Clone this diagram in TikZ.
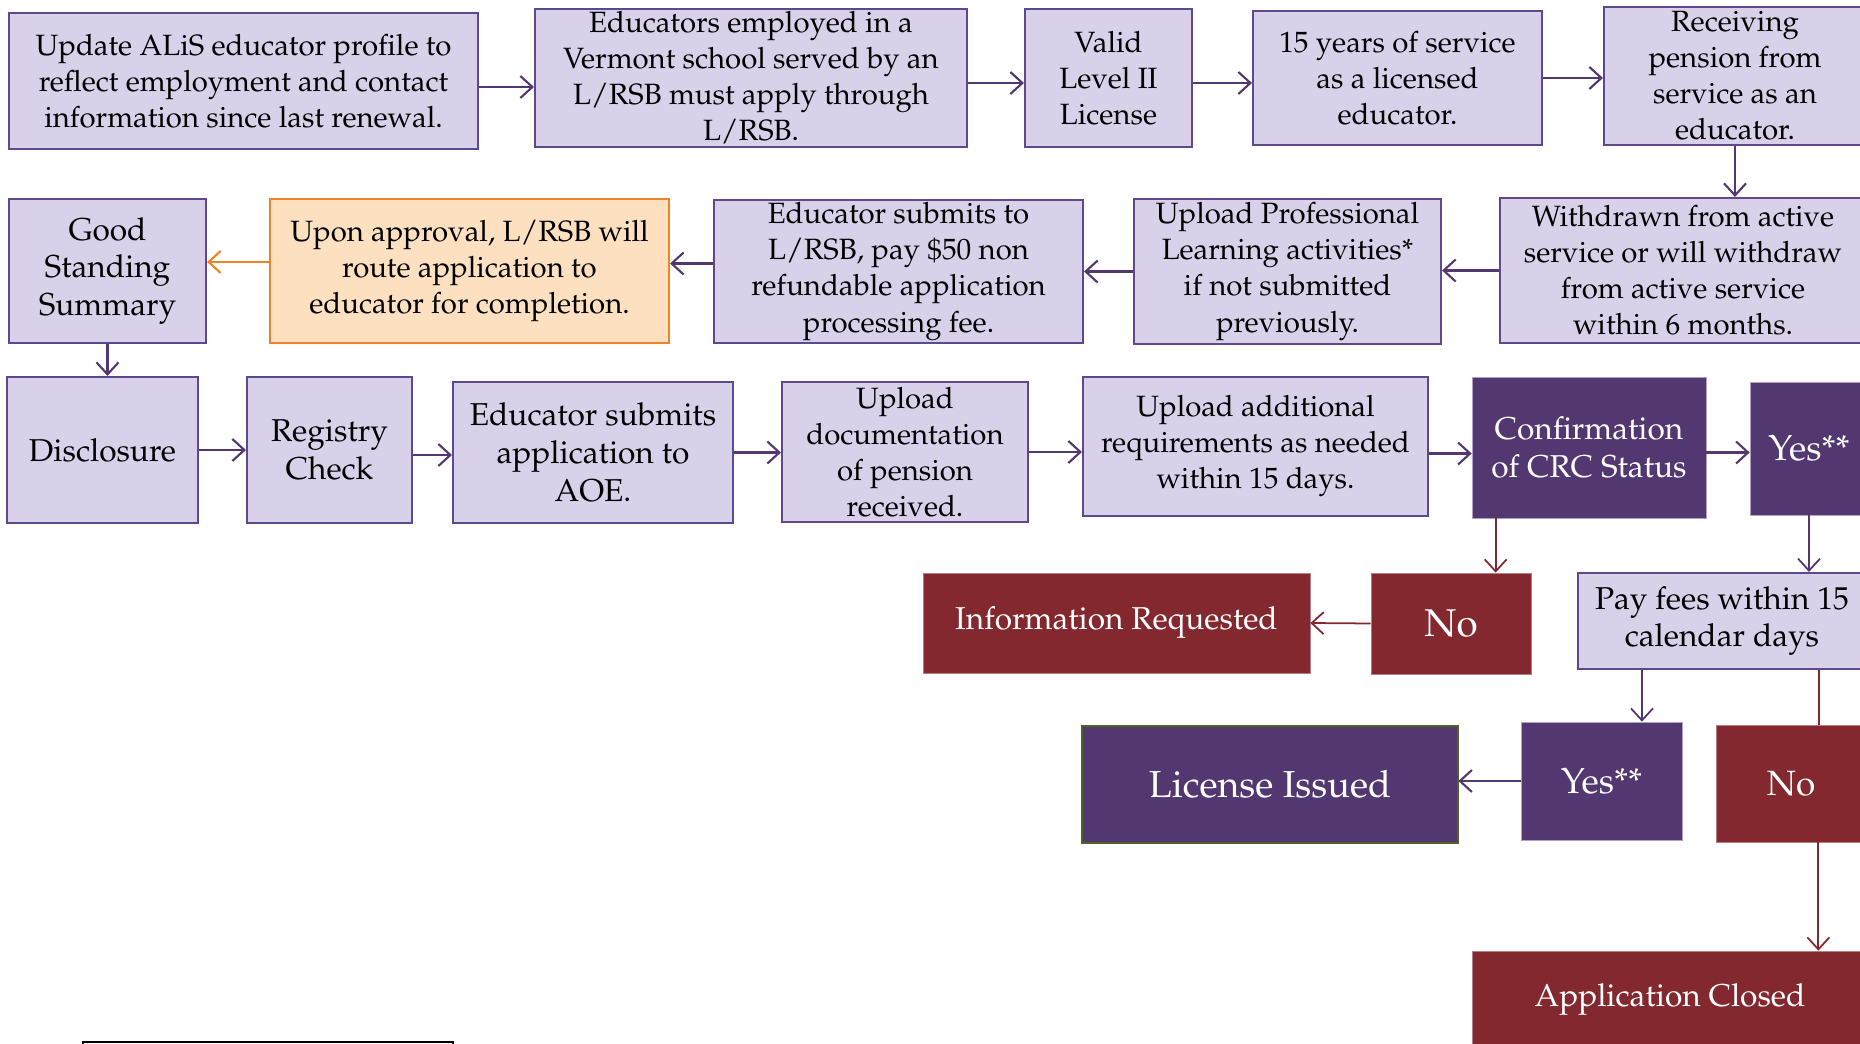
\documentclass[tikz,border=0pt]{standalone}
\usepackage[T1]{fontenc}
\usepackage{mathpazo}
\usepackage{xcolor}
\usetikzlibrary{calc, arrows.meta}

\definecolor{lightlav}{RGB}{217,208,233}
\definecolor{lavline}{RGB}{96,72,140}
\definecolor{deeppurple}{RGB}{82,55,113}
\definecolor{deepred}{RGB}{130,40,46}
\definecolor{peach}{RGB}{252,224,192}
\definecolor{orangeline}{RGB}{240,130,40}
\definecolor{olivegreen}{RGB}{79,98,40}

\def\pxu{0.02cm}
% box from corner (x1,y1) to (x2,y2), in pixels
\newcommand{\flownode}[7]{%
  \node[#1, minimum width={(#4-#2)*\pxu}, minimum height={(#5-#3)*\pxu}]
    (#6) at ({(#2+#4)/2},{(#3+#5)/2}) {#7};}

\tikzset{
  lbox/.style={draw=lavline, fill=lightlav, line width=1.2pt, align=center, inner sep=0pt,
    font=\fontsize{16.7}{20.5}\selectfont},
  lboxbig/.style={lbox, font=\fontsize{18}{21.6}\selectfont},
  obox/.style={lbox, draw=orangeline, fill=peach},
  pbox/.style={fill=deeppurple, draw=lightlav!70!deeppurple, line width=0.4pt, text=white,
    align=center, inner sep=0pt, font=\fontsize{18}{21.6}\selectfont},
  rbox/.style={pbox, fill=deepred, draw=deepred!60!white},
  arr/.style={draw=deeppurple, line width=1.2pt, -{Straight Barb[length=0.24cm,width=0.44cm]}},
  rarr/.style={arr, draw=deepred, line width=1pt},
  oarr/.style={arr, draw=orangeline}
}

\begin{document}
\begin{tikzpicture}[x=\pxu, y=-\pxu]
	\useasboundingbox (0,0) rectangle (1860,1044);
	\clip (0,0) rectangle (1860,1044);
	
	% first row
	\flownode{lbox}{9}{13}{478}{149}{upd}{Update ALiS educator profile to\\reflect employment and contact\\information since last renewal.}
	\flownode{lbox}{535}{9}{967}{147}{emp}{Educators employed in a\\Vermont school served by an\\L/RSB must apply through\\L/RSB.}
	\flownode{lbox}{1025}{9}{1192}{147}{lvl}{Valid\\Level II\\License}
	\flownode{lbox}{1253}{11}{1542}{145}{yrs}{15 years of service\\as a licensed\\educator.}
	\flownode{lbox}{1604}{7}{1866}{145}{pen}{Receiving\\pension from\\service as an\\educator.}
	
	% second row
	\flownode{lboxbig}{9}{199}{206}{343}{gss}{Good\\Standing\\Summary}
	\flownode{obox}{270}{199}{669}{343}{apr}{Upon approval, L/RSB will\\route application to\\educator for completion.}
	\flownode{lbox}{714}{200}{1083}{343}{sub}{Educator submits to\\L/RSB, pay \$50 non\\refundable application\\processing fee.}
	\flownode{lbox}{1134}{199}{1441}{344}{prl}{Upload Professional\\Learning activities*\\if not submitted\\previously.}
	\flownode{lbox}{1500}{198}{1866}{343}{wdr}{Withdrawn from active\\service or will withdraw\\from active service\\within 6 months.}
	
	% third row
	\flownode{lboxbig}{7}{377}{198}{523}{dis}{Disclosure}
	\flownode{lboxbig}{247}{377}{412}{523}{reg}{Registry\\Check}
	\flownode{lboxbig}{453}{382}{733}{523}{aoe}{Educator submits\\application to\\AOE.}
	\flownode{lbox}{782}{382}{1028}{522}{doc}{Upload\\documentation\\of pension\\received.}
	\flownode{lbox}{1083}{377}{1428}{516}{add}{\fontsize{16.7}{21.6}\selectfont Upload additional\\requirements as needed\\within 15 days.}
	\flownode{pbox}{1472}{377}{1706}{518}{crc}{Confirmation\\of CRC Status}
	\flownode{pbox}{1750}{382}{1868}{515}{yesa}{\fontsize{20.5}{24}\selectfont Yes**}
	
	% decisions
	\flownode{rbox}{923}{573}{1310}{673}{inf}{Information Requested}
	\flownode{rbox}{1371}{573}{1531}{674}{noa}{\fontsize{22}{26}\selectfont No}
	\flownode{lboxbig}{1578}{573}{1866}{669}{fee}{Pay fees within 15\\calendar days}
	\flownode{pbox}{1082}{726}{1458}{843}{lic}{\fontsize{21.4}{25}\selectfont License Issued}
	\draw[olivegreen, line width=1.2pt] (lic.south west) rectangle (lic.north east);
	\flownode{pbox}{1521}{722}{1682}{840}{yesb}{\fontsize{20.5}{24}\selectfont Yes**}
	\flownode{rbox}{1716}{725}{1866}{842}{nob}{\fontsize{20}{24}\selectfont No}
	\flownode{rbox}{1472}{951}{1868}{1048}{cls}{Application Closed}
	
	% footnote frame
	\draw[black, line width=0.8pt] (83,1042) rectangle (453,1070);
	
	% arrows
	\draw[arr] ($(upd.east)+(0,6)$) -- ($(upd.east -| emp.west)+(0,6)$);
	\draw[arr] ($(emp.east)+(0,5)$) -- ($(emp.east -| lvl.west)+(0,5)$);
	\draw[arr] ($(lvl.east)+(0,5)$) -- ($(lvl.east -| yrs.west)+(0,5)$);
	\draw[arr] (yrs.east) -- (yrs.east -| pen.west);
	\draw[arr] (pen.south) -- (pen.south |- wdr.north);
	\draw[arr] (wdr.west) -- (wdr.west -| prl.east);
	\draw[arr] (prl.west) -- (prl.west -| sub.east);
	\draw[arr] ($(sub.west)+(0,-8)$) -- ($(sub.west -| apr.east)+(0,-8)$);
	\draw[oarr] ($(apr.west)+(0,-9)$) -- ($(apr.west -| gss.east)+(0,-9)$);
	\draw[arr] (gss.south) -- (gss.south |- dis.north);
	\draw[arr] (dis.east) -- (dis.east -| reg.west);
	\draw[arr] ($(reg.east)+(0,5)$) -- ($(reg.east -| aoe.west)+(0,5)$);
	\draw[arr] (aoe.east) -- (aoe.east -| doc.west);
	\draw[arr] (doc.east) -- (doc.east -| add.west);
	\draw[arr] ($(add.east)+(0,7)$) -- ($(add.east -| crc.west)+(0,7)$);
	\draw[arr] ($(crc.east)+(0,5)$) -- ($(crc.east -| yesa.west)+(0,5)$);
	\draw[rarr] ($(crc.south west)+(24,0)$) -- ($(crc.south west |- noa.north)+(24,0)$);
	\draw[rarr] (noa.west) -- (inf.east);
	\draw[arr, line width=1pt] (yesa.south) -- (yesa.south |- fee.north);
	\draw[arr, line width=1pt] ($(fee.south west)+(65,0)$) -- ($(fee.south west |- yesb.north)+(65,0)$);
	\draw[rarr, -] ($(fee.south east)+(-48,0)$) -- ($(fee.south east |- nob.north)+(-48,0)$);
	\draw[arr] (yesb.west) -- (yesb.west -| lic.east);
	\draw[rarr] ($(nob.south east)+(-48,0)$) -- ($(nob.south east |- cls.north)+(-48,0)$);
\end{tikzpicture}
\end{document}
